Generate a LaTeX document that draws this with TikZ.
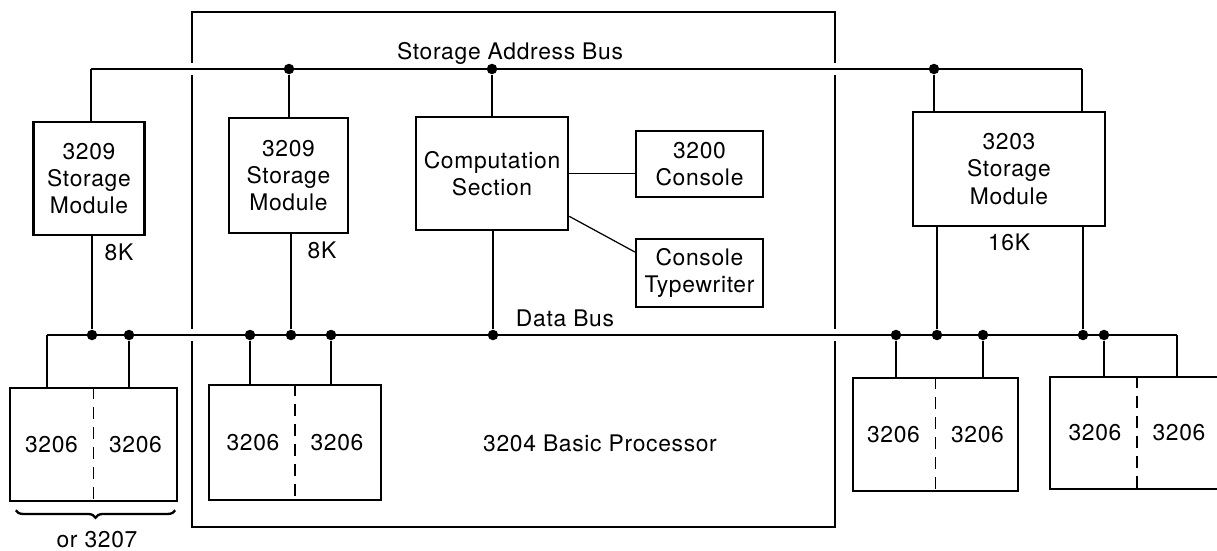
\documentclass[tikz,border=0pt]{standalone}
\usepackage{fontspec}
\setmainfont[LetterSpace=3]{TeX Gyre Heros}
\usetikzlibrary{decorations.pathreplacing}

\begin{document}
\begin{tikzpicture}[x=0.02cm,y=-0.02cm,
    every node/.style={font=\fontsize{13}{15.5}\selectfont},
    module/.style={rectangle,draw,line width=1.4pt,align=center,inner sep=0pt},
    dot/.style={circle,fill,inner sep=0pt,minimum size=0.21cm},
    bus/.style={line width=0.7pt,preaction={draw=white,line width=0.24cm}},
    wire/.style={line width=0.7pt},
    split/.style={line width=0.9pt,dash pattern=on 0.24cm off 0.16cm}]
\useasboundingbox (0,0) rectangle (1217,551);
\clip (0,0) rectangle (1217,551);

% 3204 processor frame
\draw[line width=1pt] (192,12) rectangle (835,527);

% storage modules and processor units
\node[module,minimum width=2.22cm,minimum height=2.26cm] (sm1) at (89,178.5) {3209\\Storage\\Module};
\node[module,minimum width=2.38cm,minimum height=2.30cm] (sm2) at (288.5,175.5) {3209\\Storage\\Module};
\node[module,minimum width=3.04cm,minimum height=2.26cm] (cs) at (492,173.5) {Computation\\Section};
\node[module,minimum width=2.54cm,minimum height=1.32cm] (con) at (699.5,164) {3200\\Console};
\node[module,minimum width=2.54cm,minimum height=1.36cm] (tw) at (699.5,273) {Console\\Typewriter};
\node[module,minimum width=3.84cm,minimum height=2.28cm] (sm3) at (1009,169) {3203\\Storage\\Module};

% 3206 drive pairs
\node[module,minimum width=3.34cm,minimum height=2.26cm] (d1) at (93.5,444.5) {};
\node[module,minimum width=3.44cm,minimum height=2.30cm] (d2) at (295,442.5) {};
\node[module,minimum width=3.30cm,minimum height=2.26cm] (d3) at (935.5,434.5) {};
\node[module,minimum width=3.48cm,minimum height=2.24cm] (d4) at (1137,433) {};

\foreach \d in {d1,d2,d3,d4}{
    \node[xshift=-0.84cm] (\d l) at (\d) {3206};
    \node[xshift=0.84cm] (\d r) at (\d) {3206};
}

% buses
\coordinate (aw) at (91,69);
\coordinate (ae) at (1082,69);
\coordinate (bw) at (47,335);
\coordinate (be) at (1177,335);
\draw[bus] (aw) -- (ae);
\draw[bus] (bw) -- (be);

\node[dot] (a1) at (289,69) {};
\node[dot] (a2) at (492,69) {};
\node[dot] (a3) at (934,69) {};

\node[dot] (b1) at (92,335) {};
\node[dot] (b2) at (129,335) {};
\node[dot] (b3) at (250,335) {};
\node[dot] (b4) at (291,335) {};
\node[dot] (b5) at (331,335) {};
\node[dot] (b6) at (493,335) {};
\node[dot] (b7) at (896,335) {};
\node[dot] (b8) at (937,335) {};
\node[dot] (b9) at (983,335) {};
\node[dot] (b10) at (1083,335) {};
\node[dot] (b11) at (1104,335) {};

\path[wire]
    (aw) edge (aw |- sm1.north)
    (a1) edge (a1 |- sm2.north)
    (a2) edge (a2 |- cs.north)
    (a3) edge (a3 |- sm3.north)
    (ae) edge (ae |- sm3.north)

    (b1) edge (b1 |- sm1.south)
    (b4) edge (b4 |- sm2.south)
    (b6) edge (b6 |- cs.south)
    (b8) edge (b8 |- sm3.south)
    (b10) edge (b10 |- sm3.south)

    (bw) edge (bw |- d1.north)
    (b2) edge (b2 |- d1.north)
    (b3) edge (b3 |- d2.north)
    (b5) edge (b5 |- d2.north)
    (b7) edge (b7 |- d3.north)
    (b9) edge (b9 |- d3.north)
    (b11) edge (b11 |- d4.north)
    (be) edge (be |- d4.north)

    (cs.east) edge (cs.east -| con.west)
    (cs.-29) edge (tw.162)
;

\path[split]
    (d1.north) edge (d1.south)
    (d2.north) edge (d2.south)
    (d3.north) edge (d3.south)
    (d4.north) edge (d4.south)
;

% labels
\node (sab) at (510,53) {Storage Address Bus};
\node (db) at (565,318) {Data Bus};
\node (proc) at (600,443) {3204 Basic Processor};
\node (k1) at (119,252) {8K};
\node (k2) at (322,250) {8K};
\node (k3) at (1009,242) {16K};

\draw[line width=1.3pt,decorate,decoration={brace,mirror,amplitude=0.15cm}]
    ([xshift=0.14cm,yshift=-0.16cm]d1.south west) -- ([xshift=-0.06cm,yshift=-0.16cm]d1.south east);
\node (alt) at (97,540) {or 3207};
\end{tikzpicture}
\end{document}
